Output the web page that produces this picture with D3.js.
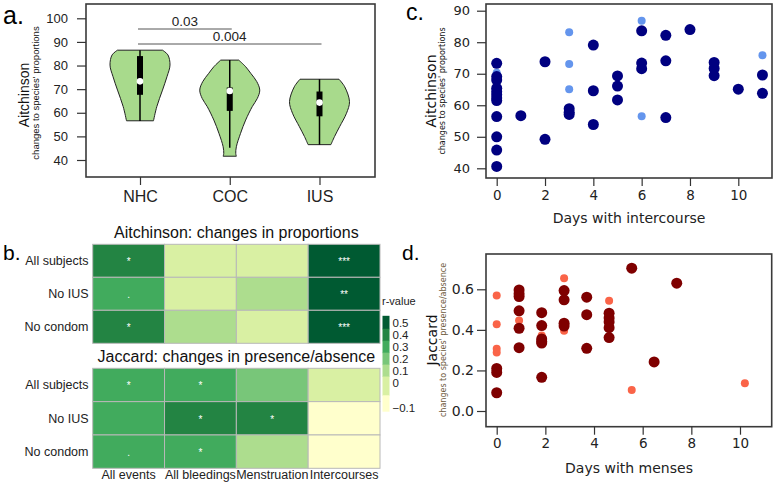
<!DOCTYPE html>
<meta charset="UTF-8">
<style>

    body {
        margin: 0;
        background: #fff;
    }

    svg { display: block; }

    .sans { font-family: "Liberation Sans", Arial, sans-serif; }
    .dv { font-family: "DejaVu Sans", sans-serif; }

    .ax text { fill: #222; }
    .ax line { stroke: #333; stroke-width: 1.2; }

</style>

<body>

    <div id="chart"></div>

    <!-- load the d3.js library -->
    <script src="https://d3js.org/d3.v7.min.js"></script>

    <script>

        // ---------- panel a: violins ----------
        var groups = ["NHC", "COC", "IUS"];
        // outline of each violin: [value, relative density]
        var violinNHC = [[86.5, 0.75], [84.5, 0.93], [80.2, 1.0], [75.3, 0.9], [69.6, 0.75], [62.6, 0.56], [56.6, 0.45]];
        var violinCOC = [[82.3, 0.3], [79.5, 0.53], [76.7, 0.7], [73.2, 0.9], [69.6, 1.0], [66.1, 0.92], [62.6, 0.75],
                         [56.9, 0.53], [51.3, 0.36], [45.6, 0.22], [42.8, 0.2], [41.6, 0.22]];
        var violinIUS = [[74.2, 0.65], [71.0, 0.84], [64.7, 1.0], [59.8, 0.9], [54.1, 0.67], [49.9, 0.5], [46.5, 0.38]];
        // [whisker low, q1, median, q3, whisker high]
        var boxStats = [[56.5, 67.6, 73.3, 84.0, 86.5], [45.2, 60.8, 69.2, 70.7, 82.3], [46.5, 58.5, 64.3, 69.0, 74.2]];
        var pairs = [["NHC", "COC"], ["NHC", "IUS"]];
        var pValues = ["0.03", "0.004"];
        var ticksA = [40, 50, 60, 70, 80, 90, 100];

        // ---------- panel b: heatmaps ----------
        var events = ["All events", "All bleedings", "Menstruation", "Intercourses"];
        var subsets = ["All subjects", "No IUS", "No condom"];
        var rAitchinson = [[0.4, 0.02, 0.02, 0.55], [0.3, 0.02, 0.1, 0.55], [0.4, 0.1, 0.02, 0.55]];
        var starsAitchinson = [["*", "", "", "***"], [".", "", "", "**"], ["*", "", "", "***"]];
        var rJaccard = [[0.3, 0.3, 0.2, 0.02], [0.3, 0.4, 0.4, -0.1], [0.3, 0.3, 0.1, -0.1]];
        var starsJaccard = [["*", "*", "", ""], ["", "*", "*", ""], [".", "*", "", ""]];
        var legendTicks = [0.5, 0.4, 0.3, 0.2, 0.1, 0, -0.1];

        // ---------- panel c: days with intercourse ----------
        var intercourseDark = [[0, 73.3], [0, 69.1], [0, 68], [0, 65.4], [0, 64.3], [0, 63.3], [0, 62.3], [0, 61.5],
                               [0, 56.4], [0, 50], [0, 45.8], [0, 40.6], [1, 56.7], [2, 73.8], [2, 49.2],
                               [3, 58.9], [3, 57.8], [3, 57.1], [4, 79.1], [4, 64.6], [4, 53.9],
                               [5, 69.3], [5, 66.1], [5, 61.7], [6, 83.6], [6, 73.4], [6, 71.6],
                               [7, 82.2], [7, 74.1], [7, 56.1], [8, 84], [9, 73.6], [9, 71.7], [9, 69.4],
                               [10, 65.1], [11, 69.6], [11, 63.8]];
        var intercourseLight = [[0, 70.3], [3, 83.2], [3, 73.1], [3, 65.1], [6, 86.8], [6, 56.5], [11, 75.9]];
        var ticksC = [40, 50, 60, 70, 80, 90];

        // ---------- panel d: days with menses ----------
        var mensesDark = [[0, 0.21], [0, 0.19], [0, 0.09],
                          [0.92, 0.597], [0.92, 0.578], [0.92, 0.564], [0.92, 0.494], [0.92, 0.408], [0.92, 0.312],
                          [1.85, 0.485], [1.85, 0.421], [1.85, 0.355], [1.85, 0.343], [1.85, 0.335], [1.85, 0.166],
                          [2.77, 0.594], [2.77, 0.548], [2.77, 0.433], [2.77, 0.419],
                          [3.7, 0.561], [3.7, 0.475], [3.7, 0.309],
                          [4.62, 0.482], [4.62, 0.459], [4.62, 0.439], [4.62, 0.411], [4.62, 0.362],
                          [5.55, 0.704], [6.47, 0.242], [7.4, 0.63]];
        var mensesLight = [[0, 0.569], [0, 0.428], [0, 0.307], [0, 0.288], [0.92, 0.446], [1.85, 0.372],
                           [2.77, 0.655], [2.77, 0.396], [4.62, 0.543], [5.55, 0.104], [10.2, 0.137]];
        var ticksD = [0, 0.2, 0.4, 0.6];
        var daysTicks = [0, 2, 4, 6, 8, 10];

        var svg = d3.select("#chart").append("svg")
            .attr("width", 777)
            .attr("height", 483);

        function panelLabel(txt, x, y, size) {
            svg.append("text")
                .attr("class", "sans")
                .attr("x", x).attr("y", y)
                .attr("font-size", size)
                .text(txt);
        }

        function rotLabel(txt, x, y, size, cls, color) {
            svg.append("text")
                .attr("class", cls)
                .attr("transform", "translate(" + x + "," + y + ") rotate(-90)")
                .attr("text-anchor", "middle")
                .attr("font-size", size)
                .attr("fill", color || "#111")
                .text(txt);
        }

        // ================= panel a =================
        var xA = d3.scalePoint().domain(groups).range([140, 319.5]);
        var yA = d3.scaleLinear().domain([40, 100]).range([160, 18.3]);
        var wA = d3.scaleLinear().domain([0, 1]).range([0, 30]);
        var violins = [violinNHC, violinCOC, violinIUS];

        var gA = svg.append("g");

        violins.forEach(function(v, i) {
            var cx = xA(groups[i]);
            var area = d3.area()
                .curve(d3.curveCatmullRom)
                .y(function(d) { return yA(d[0]); })
                .x0(function(d) { return cx - wA(d[1]); })
                .x1(function(d) { return cx + wA(d[1]); });
            gA.append("path")
                .datum(v)
                .attr("d", area)
                .attr("fill", "#a8da8c")
                .attr("stroke", "#222")
                .attr("stroke-width", 1);
        });

        // whiskers, boxes, medians
        gA.selectAll(".whisk")
            .data(boxStats)
        .enter().append("line")
            .attr("x1", function(d, i) { return xA(groups[i]); })
            .attr("x2", function(d, i) { return xA(groups[i]); })
            .attr("y1", function(d) { return yA(d[0]); })
            .attr("y2", function(d) { return yA(d[4]); })
            .attr("stroke", "#000")
            .attr("stroke-width", 1.5);

        gA.selectAll(".box")
            .data(boxStats)
        .enter().append("rect")
            .attr("x", function(d, i) { return xA(groups[i]) - 3; })
            .attr("width", 6)
            .attr("y", function(d) { return yA(d[3]); })
            .attr("height", function(d) { return yA(d[1]) - yA(d[3]); })
            .attr("fill", "#000");

        gA.selectAll(".med")
            .data(boxStats)
        .enter().append("circle")
            .attr("cx", function(d, i) { return xA(groups[i]); })
            .attr("cy", function(d) { return yA(d[2]); })
            .attr("r", 3.3)
            .attr("fill", "#fff");

        // significance bars
        pairs.forEach(function(p, i) {
            var by = 29 + i * 15;
            gA.append("line")
                .attr("x1", xA(p[0]) - 2).attr("x2", xA(p[1]) + 2)
                .attr("y1", by).attr("y2", by)
                .attr("stroke", "#555").attr("stroke-width", 1);
            gA.append("text")
                .attr("class", "sans")
                .attr("x", (xA(p[0]) + xA(p[1])) / 2)
                .attr("y", by - 3)
                .attr("text-anchor", "middle")
                .attr("font-size", 13.5)
                .attr("fill", "#222")
                .text(pValues[i]);
        });

        gA.append("rect")
            .attr("x", 86).attr("y", 4)
            .attr("width", 289).attr("height", 173)
            .attr("fill", "none")
            .attr("stroke", "#3a3a3a")
            .attr("stroke-width", 1.6);

        var axA = svg.append("g")
            .attr("class", "ax sans")
            .attr("transform", "translate(86,0)")
            .call(d3.axisLeft(yA).tickValues(ticksA).tickSize(9).tickPadding(9));
        axA.select(".domain").remove();
        axA.selectAll("text").attr("font-size", 13).attr("font-family", "Liberation Sans, Arial, sans-serif");

        var axAx = svg.append("g")
            .attr("class", "ax sans")
            .attr("transform", "translate(0,177)")
            .call(d3.axisBottom(xA).tickSize(8).tickPadding(6));
        axAx.select(".domain").remove();
        axAx.selectAll("text").attr("font-size", 16).attr("font-family", "Liberation Sans, Arial, sans-serif");

        rotLabel("Aitchinson", 29, 95, 14, "sans");
        rotLabel("changes to species' proportions", 38.5, 93, 9.5, "sans");
        panelLabel("a.", 3, 24, 25);

        // ================= panel b =================
        var colorR = d3.scaleThreshold()
            .domain([-0.05, 0.05, 0.15, 0.25, 0.35, 0.45])
            .range(d3.schemeYlGn[7]);
        var xB = d3.scaleBand().domain(events).range([92.7, 380]);

        function drawHeat(rVals, stars, top, bottom, title, titleY) {
            var yB = d3.scaleBand().domain(subsets).range([top, bottom]);
            var cells = [];
            rVals.forEach(function(row, i) {
                row.forEach(function(r, j) {
                    cells.push({ row: subsets[i], col: events[j], r: r, s: stars[i][j] });
                });
            });
            var g = svg.append("g");
            g.selectAll("rect")
                .data(cells)
            .enter().append("rect")
                .attr("x", function(d) { return xB(d.col); })
                .attr("y", function(d) { return yB(d.row); })
                .attr("width", xB.bandwidth())
                .attr("height", yB.bandwidth())
                .attr("fill", function(d) { return colorR(d.r); })
                .attr("stroke", "#b8b8b8")
                .attr("stroke-width", 1);
            g.selectAll(".star")
                .data(cells)
            .enter().append("text")
                .attr("class", "sans")
                .attr("x", function(d) { return xB(d.col) + xB.bandwidth() / 2; })
                .attr("y", function(d) { return yB(d.row) + yB.bandwidth() / 2 + 4.5; })
                .attr("text-anchor", "middle")
                .attr("font-size", 10)
                .attr("fill", "#fff")
                .text(function(d) { return d.s; });
            g.selectAll(".rowlab")
                .data(subsets)
            .enter().append("text")
                .attr("class", "sans")
                .attr("x", 88.5)
                .attr("y", function(d) { return yB(d) + yB.bandwidth() / 2 + 4.5; })
                .attr("text-anchor", "end")
                .attr("font-size", 12.5)
                .attr("fill", "#222")
                .text(function(d) { return d; });
            g.append("text")
                .attr("class", "sans")
                .attr("x", (92.7 + 380) / 2)
                .attr("y", titleY)
                .attr("text-anchor", "middle")
                .attr("font-size", 16)
                .attr("fill", "#111")
                .text(title);
        }

        drawHeat(rAitchinson, starsAitchinson, 244.3, 343.3, "Aitchinson: changes in proportions", 237.5);
        drawHeat(rJaccard, starsJaccard, 368.3, 468.3, "Jaccard: changes in presence/absence", 361.5);

        svg.selectAll(".collab")
            .data(events)
        .enter().append("text")
            .attr("class", "sans")
            .attr("x", function(d) { return xB(d) + xB.bandwidth() / 2; })
            .attr("y", 478.5)
            .attr("text-anchor", "middle")
            .attr("font-size", 12.5)
            .attr("fill", "#222")
            .text(function(d) { return d; });

        // colour legend
        var legY = d3.scaleLinear().domain([0.5, 0, -0.1]).range([322.8, 382.5, 408.2]);
        var legBlocks = legendTicks.map(function(t, i) {
            var y0 = i === 0 ? legY(t) - 7 : (legY(legendTicks[i - 1]) + legY(t)) / 2;
            var y1 = i === legendTicks.length - 1 ? legY(t) + 3 : (legY(t) + legY(legendTicks[i + 1])) / 2;
            return { t: t, y0: y0, y1: y1 };
        });
        svg.selectAll(".leg")
            .data(legBlocks)
        .enter().append("rect")
            .attr("x", 382.5)
            .attr("width", 7)
            .attr("y", function(d) { return d.y0; })
            .attr("height", function(d) { return d.y1 - d.y0 + 0.5; })
            .attr("fill", function(d) { return colorR(d.t); });
        svg.selectAll(".legtxt")
            .data(legendTicks)
        .enter().append("text")
            .attr("class", "sans")
            .attr("x", 392.5)
            .attr("y", function(d) { return legY(d) + 4; })
            .attr("font-size", 11.5)
            .attr("fill", "#222")
            .text(function(d) { return d < 0 ? "\u2212" + Math.abs(d) : String(d); });
        svg.append("text")
            .attr("class", "sans")
            .attr("x", 382)
            .attr("y", 305)
            .attr("font-size", 11)
            .attr("fill", "#222")
            .text("r-value");

        panelLabel("b.", 3, 260, 21);

        // ================= panel c =================
        var xC = d3.scaleLinear().domain([0, 10]).range([496.7, 738.3]);
        var yC = d3.scaleLinear().domain([40, 90]).range([168.3, 10.7]);

        svg.selectAll(".cl")
            .data(intercourseLight)
        .enter().append("circle")
            .attr("cx", function(d) { return xC(d[0]); })
            .attr("cy", function(d) { return yC(d[1]); })
            .attr("r", 4)
            .attr("fill", "#6495ed");
        svg.selectAll(".cd")
            .data(intercourseDark)
        .enter().append("circle")
            .attr("cx", function(d) { return xC(d[0]); })
            .attr("cy", function(d) { return yC(d[1]); })
            .attr("r", 5.5)
            .attr("fill", "#000080");

        svg.append("rect")
            .attr("x", 486).attr("y", 4)
            .attr("width", 286).attr("height", 174)
            .attr("fill", "none")
            .attr("stroke", "#3a3a3a")
            .attr("stroke-width", 1.6);

        var axCy = svg.append("g")
            .attr("class", "ax")
            .attr("transform", "translate(486,0)")
            .call(d3.axisLeft(yC).tickValues(ticksC).tickSize(9).tickPadding(7));
        axCy.select(".domain").remove();
        axCy.selectAll("text").attr("font-family", "DejaVu Sans, sans-serif").attr("font-size", 13);
        var axCx = svg.append("g")
            .attr("class", "ax")
            .attr("transform", "translate(0,178)")
            .call(d3.axisBottom(xC).tickValues(daysTicks).tickSize(8).tickPadding(4));
        axCx.select(".domain").remove();
        axCx.selectAll("text").attr("font-family", "DejaVu Sans, sans-serif").attr("font-size", 13.5);

        svg.append("text")
            .attr("class", "dv")
            .attr("x", (486 + 772) / 2).attr("y", 223)
            .attr("text-anchor", "middle")
            .attr("font-size", 14)
            .attr("fill", "#222")
            .text("Days with intercourse");
        rotLabel("Aitchinson", 436, 91, 14, "dv");
        rotLabel("changes to species' proportions", 445, 91, 8, "dv");
        panelLabel("c.", 406, 20, 23);

        // ================= panel d =================
        var xD = d3.scaleLinear().domain([0, 10]).range([496.7, 740]);
        var yD = d3.scaleLinear().domain([0, 0.6]).range([411, 289.3]);

        svg.selectAll(".dl")
            .data(mensesLight)
        .enter().append("circle")
            .attr("cx", function(d) { return xD(d[0]); })
            .attr("cy", function(d) { return yD(d[1]); })
            .attr("r", 4)
            .attr("fill", "#fa6448");
        svg.selectAll(".dd")
            .data(mensesDark)
        .enter().append("circle")
            .attr("cx", function(d) { return xD(d[0]); })
            .attr("cy", function(d) { return yD(d[1]); })
            .attr("r", 5.5)
            .attr("fill", "#7f0000");

        svg.append("rect")
            .attr("x", 486).attr("y", 254)
            .attr("width", 285.7).attr("height", 172.7)
            .attr("fill", "none")
            .attr("stroke", "#3a3a3a")
            .attr("stroke-width", 1.6);

        var axDy = svg.append("g")
            .attr("class", "ax")
            .attr("transform", "translate(486,0)")
            .call(d3.axisLeft(yD).tickValues(ticksD).tickFormat(d3.format(".1f")).tickSize(9).tickPadding(3));
        axDy.select(".domain").remove();
        axDy.selectAll("text").attr("font-family", "DejaVu Sans, sans-serif").attr("font-size", 14);
        var axDx = svg.append("g")
            .attr("class", "ax")
            .attr("transform", "translate(0,426.7)")
            .call(d3.axisBottom(xD).tickValues(daysTicks).tickSize(8).tickPadding(4));
        axDx.select(".domain").remove();
        axDx.selectAll("text").attr("font-family", "DejaVu Sans, sans-serif").attr("font-size", 13.5);

        svg.append("text")
            .attr("class", "dv")
            .attr("x", (486 + 772) / 2).attr("y", 472.5)
            .attr("text-anchor", "middle")
            .attr("font-size", 14)
            .attr("fill", "#222")
            .text("Days with menses");
        rotLabel("Jaccard", 437, 340, 14, "dv");
        rotLabel("changes to species' presence/absence", 445.5, 340, 8, "dv", "#6e5a3c");
        panelLabel("d.", 402, 260, 21);

    </script>

</body>
